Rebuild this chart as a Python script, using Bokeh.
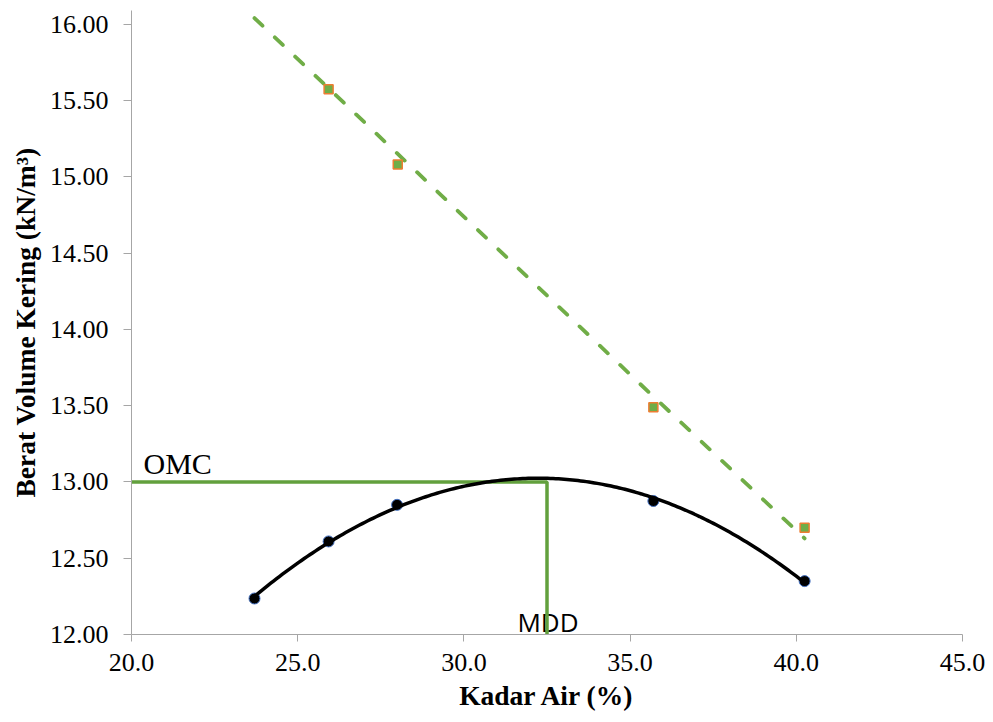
import numpy as np
from bokeh.plotting import figure
from bokeh.models import Range1d, FixedTicker, PrintfTickFormatter
from bokeh.core.properties import value
from bokeh.embed import file_html
from bokeh.resources import INLINE

# ---- data ----
kadar_air = [23.70, 25.93, 27.99, 35.70, 40.25]          # water content (%)
berat_kering = [12.236, 12.61, 12.85, 12.875, 12.35]      # dry unit weight (kN/m3)

sq_x = [25.93, 28.01, 35.70, 40.25]                       # square markers
sq_y = [15.574, 15.08, 13.49, 12.70]

zav_x = [23.70, 25.93, 28.01, 35.70, 40.25]               # dashed line
zav_y = [16.04, 15.58, 15.15, 13.56, 12.63]

omc_x = [20.0, 32.5, 32.5]                                # OMC / MDD guide
omc_y = [13.00, 13.00, 12.00]

x_ticks = [20.0, 25.0, 30.0, 35.0, 40.0, 45.0]
y_ticks = [12.0, 12.5, 13.0, 13.5, 14.0, 14.5, 15.0, 15.5, 16.0]

# quadratic trendline through the measured points
coef = np.polyfit(kadar_air, berat_kering, 2)
fit_x = np.linspace(min(kadar_air), max(kadar_air), 200)
fit_y = np.polyval(coef, fit_x)

p = figure(width=985, height=714, output_backend="svg", toolbar_location=None,
           x_range=Range1d(20, 45), y_range=Range1d(12, 16.09),
           min_border_left=131, min_border_right=23, min_border_top=10, min_border_bottom=80)
p.outline_line_color = None
p.xgrid.visible = False
p.ygrid.visible = False

serif = "Liberation Serif"
for ax in (p.xaxis[0], p.yaxis[0]):
    ax.axis_line_color = "#a6a6a6"
    ax.major_tick_line_color = "#a6a6a6"
    ax.minor_tick_line_color = None
    ax.major_tick_in = 0
    ax.major_label_text_font = serif
    ax.major_label_text_font_size = "26px"
    ax.major_label_text_color = "black"
    ax.axis_label_text_font = serif
    ax.axis_label_text_font_style = "bold"
    ax.axis_label_text_font_size = "27.5px"
    ax.axis_label_text_color = "black"

p.xaxis.ticker = FixedTicker(ticks=x_ticks)
p.yaxis.ticker = FixedTicker(ticks=y_ticks)
p.xaxis.formatter = PrintfTickFormatter(format="%.1f")
p.yaxis.formatter = PrintfTickFormatter(format="%.2f")
p.xaxis.major_tick_out = 7
p.yaxis.major_tick_out = 8
p.xaxis.major_label_standoff = 12
p.yaxis.major_label_standoff = 15
p.xaxis.axis_label = "Kadar Air (%)"
p.yaxis.axis_label = "Berat Volume Kering (kN/m³)"
p.xaxis.axis_label_standoff = 6
p.yaxis.axis_label_standoff = 6

# labels (under the guide lines)
p.text(x=[20.36], y=[13.12], text=["OMC"], text_font=value(serif),
       text_font_size="30px", text_color="black", text_baseline="alphabetic")
p.text(x=[31.61], y=[12.08], text=["MDD"], text_font=value("Open Sans"),
       text_font_size="26px", text_color="black", text_baseline="alphabetic")

# OMC/MDD guide lines
p.line(omc_x, omc_y, line_color="#62A03D", line_width=3.5)

# dashed line and squares
p.line(zav_x, zav_y, line_color="#70AD47", line_width=3.8, line_dash="11 17",
       line_cap="round")
p.scatter(sq_x, sq_y, marker="square", size=9, fill_color="#70AD47",
          line_color="#ED7D31", line_width=1.5)

# measured points and trendline
p.scatter(kadar_air, berat_kering, marker="circle", size=11, fill_color="black",
          line_color="#4472C4", line_width=1)
p.line(fit_x, fit_y, line_color="black", line_width=3.5)

open("out.html", "w").write(file_html(p, INLINE))
